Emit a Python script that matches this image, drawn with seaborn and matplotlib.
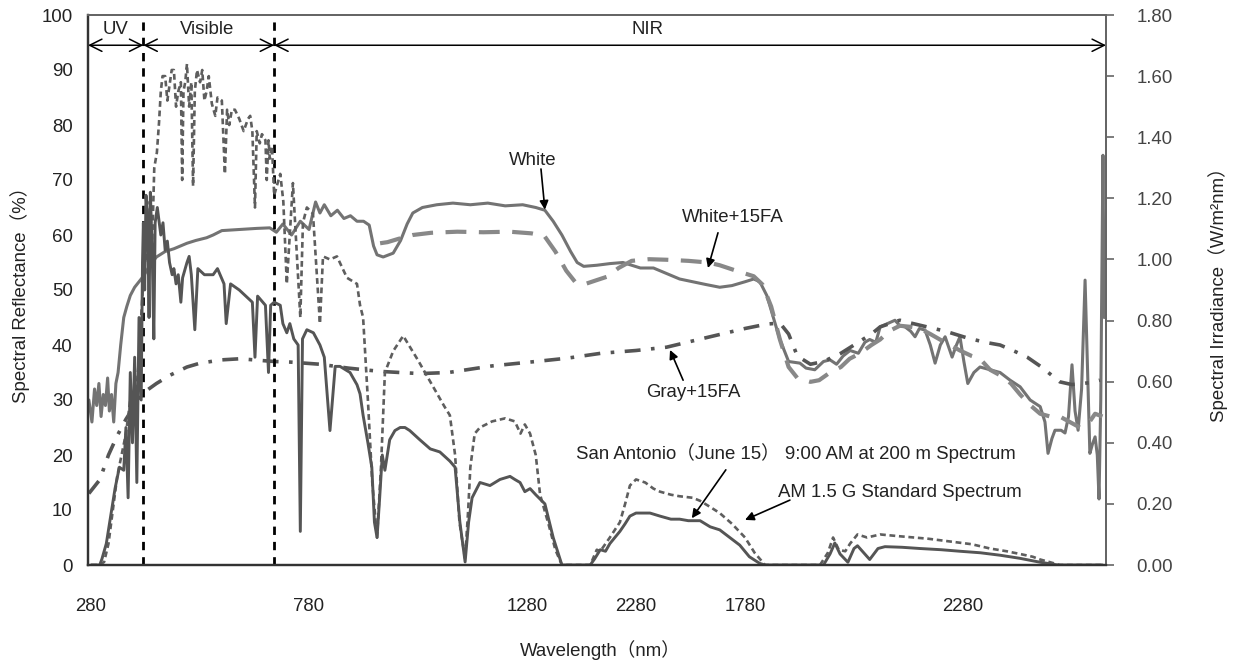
import matplotlib
matplotlib.use("Agg")
import matplotlib.pyplot as plt
import pandas as pd
import seaborn as sns
from matplotlib.ticker import FormatStrFormatter

# ---- data (wavelength in nm) ----
# White, reflectance (%)
white_wl = [275, 282, 288, 293, 298, 303, 308, 313, 318, 322, 327, 332, 337, 342, 348, 355, 362, 370,
            380, 390, 400, 415, 430, 450, 470, 500, 520, 545, 560, 580, 620, 660, 690, 705, 720, 740,
            760, 780, 795, 805, 815, 830, 845, 860, 875, 890, 905, 918, 928, 936, 950, 973, 990, 1005,
            1018, 1040, 1073, 1110, 1150, 1190, 1230, 1270, 1300, 1321, 1340, 1360, 1380, 1395, 1410,
            1440, 1470, 1500, 1520, 1540, 1570, 1600, 1630, 1660, 1690, 1722, 1750, 1780, 1800, 1814,
            1830, 1845, 1860, 1880, 1906, 1920, 1940, 1960, 1975, 1990, 2005, 2021, 2040, 2055, 2066,
            2080, 2090, 2110, 2124, 2135, 2147, 2160, 2170, 2180, 2193, 2205, 2216, 2228, 2239, 2255,
            2265, 2273, 2282, 2291, 2305, 2319, 2342, 2365, 2388, 2411, 2434, 2457, 2468, 2475, 2484,
            2491, 2505, 2514, 2522, 2530, 2537, 2544, 2552, 2560, 2566, 2571, 2577, 2583, 2588, 2592,
            2596, 2601, 2604]
white_r = [30, 26, 32, 29, 33, 27, 31, 29, 34, 28, 31, 26, 33, 35, 40, 45, 47, 49,
           50.5, 51.5, 52.5, 54.5, 56, 57, 57.5, 58.5, 59, 59.5, 60, 60.8, 61, 61.2, 61.3, 60.5, 62, 60,
           62.5, 61, 66, 64, 65.5, 63.5, 64.5, 63, 63.5, 62.5, 62.5, 61.8, 58, 56.4, 56, 56.7, 59, 62,
           64, 65, 65.5, 65.8, 65.5, 65.8, 65.3, 65.5, 65, 64.5, 62.5, 60, 57, 55, 54.3,
           54.5, 54.8, 55, 54.5, 54, 54, 53, 52, 51.5, 51, 50.5, 50.8, 51.5, 52, 51.5,
           49, 45, 41, 37, 36.7, 35.8, 35.5, 37, 37.3, 36.5, 38, 39, 38.5, 40.5, 41,
           40.5, 43.3, 44, 44.5, 43.5, 43.3, 42.5, 41.5, 43, 42.7, 40, 36.7, 40, 41.5, 37.8,
           40, 41.5, 37, 33, 35, 36, 35.5, 35, 33.6, 32.4, 30, 28.8, 26, 20.3, 23,
           24.5, 24.5, 24, 27, 36.4, 28, 24.5, 32, 51.8, 35, 20.3, 22, 23.3, 20, 12,
           30, 74.5, 45]

# White+15FA, reflectance (%)
white_fa_wl = [943, 960, 985, 1018, 1060, 1120, 1180, 1240, 1290, 1320, 1345, 1370, 1390, 1410, 1440,
               1463, 1490, 1520, 1560, 1600, 1650, 1695, 1722, 1760, 1800, 1820, 1840, 1860, 1880,
               1900, 1930, 1950, 1975, 2000, 2020, 2044, 2070, 2090, 2110, 2135, 2160, 2181, 2205,
               2227, 2250, 2273, 2300, 2319, 2342, 2365, 2390, 2411, 2435, 2457, 2480, 2502, 2525,
               2548, 2570, 2583, 2600]
white_fa_r = [58.5, 58.7, 59.3, 60, 60.4, 60.6, 60.5, 60.6, 60.3, 59.8, 57, 53.5, 51.5, 51, 51.8,
              52.4, 54, 55.3, 55.6, 55.5, 55.3, 55, 54.5, 53.5, 52.5, 51, 47, 41, 36,
              34, 33.3, 33.6, 35, 36, 37.5, 38.5, 40, 41, 42.5, 43.5, 43.3, 43, 42,
              41, 40, 39, 38, 37.5, 35.5, 34.5, 33, 31, 29, 27.5, 27, 27, 26,
              25, 26, 27.5, 27]

# Gray+15FA, reflectance (%)
gray_fa_wl = [275, 290, 300, 320, 340, 360, 380, 400, 430, 461, 500, 530, 580, 622, 668, 700, 736, 805,
              870, 943, 1034, 1100, 1200, 1300, 1372, 1450, 1530, 1600, 1700, 1780, 1830, 1860, 1880,
              1900, 1930, 1960, 2000, 2040, 2070, 2090, 2135, 2160, 2197, 2240, 2289, 2330, 2365, 2400,
              2427, 2460, 2502, 2530, 2555, 2575, 2594]
gray_fa_r = [13, 14.5, 15.5, 20, 23.5, 26.5, 29, 31.3, 33, 34.5, 36, 36.7, 37.3, 37.5, 37.2, 37, 36.9, 36.5,
             35.8, 35.2, 34.8, 35, 36.2, 37, 37.6, 38.5, 39, 39.6, 41.5, 43, 43.8, 44, 42,
             38, 36.5, 37, 38.5, 40.5, 42, 43.3, 44.5, 44, 43.3, 42.5, 41.3, 40.5, 40, 38.8,
             37.8, 36, 33.3, 32.8, 33, 33.2, 33.6]

# AM 1.5 G standard spectrum, irradiance (W/m2nm)
am15_wl = [280, 300, 310, 320, 330, 340, 350, 360, 370, 380, 390, 400, 404, 410, 415, 420, 425, 431, 436,
           440, 444, 450, 455, 460, 465, 470, 475, 480, 486, 489, 492, 496, 500, 505, 510, 514, 518, 523,
           530, 535, 540, 545, 550, 557, 565, 570, 580, 587, 592, 597, 603, 610, 620, 630, 640, 645, 650,
           656, 660, 667, 672, 680, 683, 687, 690, 695, 700, 714, 721, 729, 743, 760, 766, 775, 789,
           805, 812, 828, 844, 867, 890, 897, 904, 915, 925, 936, 945, 954, 973, 996, 1030, 1058, 1090,
           1103, 1115, 1125, 1138, 1145, 1150, 1160, 1172, 1200, 1230, 1252, 1265, 1275, 1287, 1300, 1310,
           1330, 1345, 1360, 1425, 1440, 1448, 1470, 1493, 1505, 1516, 1530, 1551, 1570, 1585, 1610, 1630,
           1660, 1677, 1700, 1722, 1750, 1780, 1802, 1826, 1952, 1970, 1982, 1995, 2010, 2021, 2038, 2060,
           2090, 2135, 2200, 2250, 2300, 2342, 2380, 2411, 2440, 2457, 2480, 2502, 2600]
am15_irr = [0.00, 0.00, 0.01, 0.07, 0.18, 0.29, 0.36, 0.43, 0.54, 0.49, 0.68, 0.94, 1.12, 0.99, 1.19, 1.04,
            1.30, 1.35, 1.45, 1.55, 1.60, 1.60, 1.52, 1.57, 1.62, 1.62, 1.50, 1.55, 1.58, 1.26, 1.55, 1.58,
            1.64, 1.50, 1.58, 1.24, 1.55, 1.62, 1.58, 1.62, 1.52, 1.55, 1.60, 1.51, 1.47, 1.53, 1.52, 1.28,
            1.49, 1.44, 1.49, 1.49, 1.46, 1.42, 1.46, 1.47, 1.42, 1.17, 1.42, 1.38, 1.41, 1.39, 1.26, 1.39,
            1.33, 1.37, 1.21, 1.28, 1.19, 0.92, 1.25, 0.81, 1.12, 1.17, 1.15, 0.79, 1.01, 1.00, 1.01, 0.94,
            0.92, 0.85, 0.81, 0.54, 0.27, 0.09, 0.32, 0.63, 0.70, 0.75, 0.67, 0.60, 0.52, 0.49, 0.36, 0.14,
            0.02, 0.18, 0.32, 0.43, 0.45, 0.47, 0.48, 0.47, 0.43, 0.46, 0.43, 0.36, 0.23, 0.13, 0.05, 0.00,
            0.00, 0.05, 0.045, 0.09, 0.14, 0.20, 0.26, 0.28, 0.27, 0.25, 0.24, 0.23, 0.225, 0.22, 0.21,
            0.19, 0.17, 0.135, 0.09, 0.04, 0.00, 0.00, 0.04, 0.09, 0.05, 0.045, 0.07, 0.10, 0.09, 0.10,
            0.094, 0.086, 0.077, 0.068, 0.054, 0.045, 0.036, 0.027, 0.018, 0.009, 0.00, 0.00]

# San Antonio (June 15) 9:00 AM at 200 m, irradiance (W/m2nm)
sa_wl = [280, 300, 305, 315, 325, 335, 345, 355, 360, 365, 370, 375, 380, 385, 390, 395, 398, 400, 403,
         406, 410, 413, 416, 420, 424, 427, 432, 440, 445, 450, 455, 460, 466, 470, 475, 480, 486, 490,
         500, 505, 510, 518, 525, 540, 560, 570, 585, 590, 600, 620, 635, 650, 656, 662, 680, 687, 692,
         700, 714, 720, 729, 736, 745, 755, 760, 765, 775, 790, 805, 815, 828, 840, 851, 874, 890, 897,
         904, 915, 924, 930, 936, 942, 948, 954, 965, 977, 989, 1000, 1011, 1034, 1058, 1080, 1103, 1115,
         1126, 1138, 1146, 1154, 1172, 1195, 1218, 1241, 1252, 1264, 1275, 1287, 1300, 1321, 1340, 1360,
         1425, 1435, 1448, 1460, 1470, 1493, 1505, 1516, 1530, 1562, 1585, 1610, 1630, 1650, 1677, 1700,
         1722, 1745, 1768, 1790, 1814, 1826, 1960, 1975, 1986, 1998, 2016, 2030, 2038, 2055, 2066, 2085,
         2101, 2140, 2181, 2230, 2273, 2320, 2365, 2410, 2457, 2498, 2600]
sa_irr = [0.00, 0.00, 0.02, 0.07, 0.16, 0.25, 0.32, 0.31, 0.45, 0.22, 0.63, 0.40, 0.68, 0.27, 0.81, 0.54,
          0.99, 1.12, 0.90, 1.21, 1.13, 0.81, 1.22, 1.04, 0.74, 1.12, 1.17, 1.08, 1.12, 1.03, 1.06, 0.99,
          0.95, 0.97, 0.92, 0.95, 0.86, 0.94, 0.99, 1.01, 0.95, 0.77, 0.97, 0.95, 0.95, 0.97, 0.92, 0.79,
          0.92, 0.90, 0.88, 0.86, 0.68, 0.88, 0.85, 0.63, 0.85, 0.86, 0.85, 0.79, 0.76, 0.79, 0.74, 0.72,
          0.11, 0.74, 0.77, 0.76, 0.72, 0.68, 0.44, 0.65, 0.65, 0.63, 0.59, 0.56, 0.49, 0.40, 0.32, 0.14,
          0.09, 0.22, 0.36, 0.31, 0.41, 0.44, 0.45, 0.45, 0.44, 0.41, 0.38, 0.37, 0.34, 0.32, 0.14, 0.01,
          0.14, 0.22, 0.27, 0.26, 0.28, 0.29, 0.28, 0.27, 0.24, 0.25, 0.23, 0.20, 0.09, 0.00, 0.00, 0.02,
          0.05, 0.045, 0.07, 0.11, 0.135, 0.16, 0.17, 0.17, 0.16, 0.15, 0.15, 0.145, 0.145, 0.125, 0.115,
          0.09, 0.065, 0.027, 0.005, 0.00, 0.00, 0.036, 0.072, 0.036, 0.009, 0.054, 0.063, 0.036, 0.018,
          0.054, 0.06, 0.058, 0.054, 0.05, 0.045, 0.04, 0.032, 0.022, 0.009, 0.00, 0.00]

x_ticks = [280, 780, 1280, 1530, 1780, 2280]
x_tick_labels = ['280', '780', '1280', '2280', '1780', '2280']
band_edges = [400, 700]

sns.set_style("white")
plt.rcParams['font.family'] = ['Liberation Sans', 'Noto Sans CJK KR']
FS = 13.4

fig = plt.figure(figsize=(12.33, 6.62), dpi=100)
ax = fig.add_axes([88 / 1233, 97 / 662, 1018 / 1233, 550 / 662])
ax2 = ax.twinx()

# reflectance curves (left axis)
sns.lineplot(x=white_wl, y=white_r, ax=ax, color='#737373', linewidth=2.2)
sns.lineplot(x=white_fa_wl, y=white_fa_r, ax=ax, color='#888888', linewidth=3,
             linestyle=(0, (5, 3)))
sns.lineplot(x=gray_fa_wl, y=gray_fa_r, ax=ax, color='#555555', linewidth=2.6,
             linestyle=(0, (4.4, 2.9, 1.0, 2.9)))

# irradiance curves (right axis)
sns.lineplot(x=am15_wl, y=am15_irr, ax=ax2, color='#5e5e5e', linewidth=1.9,
             linestyle=(0, (2.2, 1.4)))
sns.lineplot(x=sa_wl, y=sa_irr, ax=ax2, color='#555555', linewidth=2.1)

ax.set_xlim(273, 2608)
ax.set_ylim(0, 100)
ax2.set_ylim(0, 1.8)

for edge in band_edges:
    ax.axvline(edge, color='black', linestyle=(0, (3, 2.5)), linewidth=2)

# band arrows
arrow_y = 94.5
for left, right in [(273, 400), (400, 700), (700, 2608)]:
    ax.annotate('', xy=(left, arrow_y), xytext=(right, arrow_y),
                arrowprops=dict(arrowstyle='<->', color='black', lw=1.1, mutation_scale=22,
                                shrinkA=0, shrinkB=0))
ax.text(336, 97.3, 'UV', ha='center', va='center', fontsize=FS, color='#222222')
ax.text(546, 97.3, 'Visible', ha='center', va='center', fontsize=FS, color='#222222')
ax.text(1557, 97.3, 'NIR', ha='center', va='center', fontsize=FS, color='#222222')

# curve labels
labels = [
    ('White', (1294, 73.6), 'center', (1312, 72.0), (1321, 64.6)),
    ('White+15FA', (1752, 63.1), 'center', (1718, 60.4), (1695, 54.0)),
    ('Gray+15FA', (1661, 31.3), 'center', (1638, 33.6), (1608, 39.1)),
    ('San Antonio（June 15） 9:00 AM at 200 m Spectrum', (1392, 20.4), 'left',
     (1736, 17.3), (1658, 8.5)),
    ('AM 1.5 G Standard Spectrum', (1856, 13.1), 'left', (1883, 11.8), (1780, 8.2)),
]
for txt, pos, ha, start, tip in labels:
    ax.text(pos[0], pos[1], txt, ha=ha, va='center', fontsize=FS, color='#222222')
    ax.annotate('', xy=tip, xytext=start,
                arrowprops=dict(arrowstyle='-|>', color='black', lw=1.2, mutation_scale=13,
                                shrinkA=0, shrinkB=0))

ax.set_xticks(x_ticks)
ax.set_xticklabels(x_tick_labels)
ax.set_yticks(range(0, 101, 10))
ax2.set_yticks([i / 10 for i in range(0, 19, 2)])
ax2.yaxis.set_major_formatter(FormatStrFormatter('%.2f'))

ax.tick_params(axis='x', length=0, pad=24, labelsize=FS, labelcolor='#222222')
ax.tick_params(axis='y', length=0, pad=11, labelsize=FS, labelcolor='#222222')
ax2.tick_params(axis='y', direction='out', length=6, width=1.2, color='#666666', pad=16,
                labelsize=FS, labelcolor='#444444')

ax.set_xlabel('Wavelength（nm）', fontsize=FS, color='#222222', va='center')
ax.xaxis.set_label_coords(0.503, -0.155)
ax.set_ylabel('Spectral Reflectance（%）', fontsize=FS, color='#222222', va='center')
ax.yaxis.set_label_coords(-0.067, 0.5)
ax2.set_ylabel('Spectral Irradiance（W/m²nm）', fontsize=FS, color='#222222', va='center')
ax2.yaxis.set_label_coords(1.11, 0.5)

for a in (ax, ax2):
    for side in ['left', 'bottom']:
        a.spines[side].set_color('#333333')
        a.spines[side].set_linewidth(1.6)
    for side in ['top', 'right']:
        a.spines[side].set_color('#666666')
        a.spines[side].set_linewidth(1.4)

fig.savefig('out.png', dpi=100)
